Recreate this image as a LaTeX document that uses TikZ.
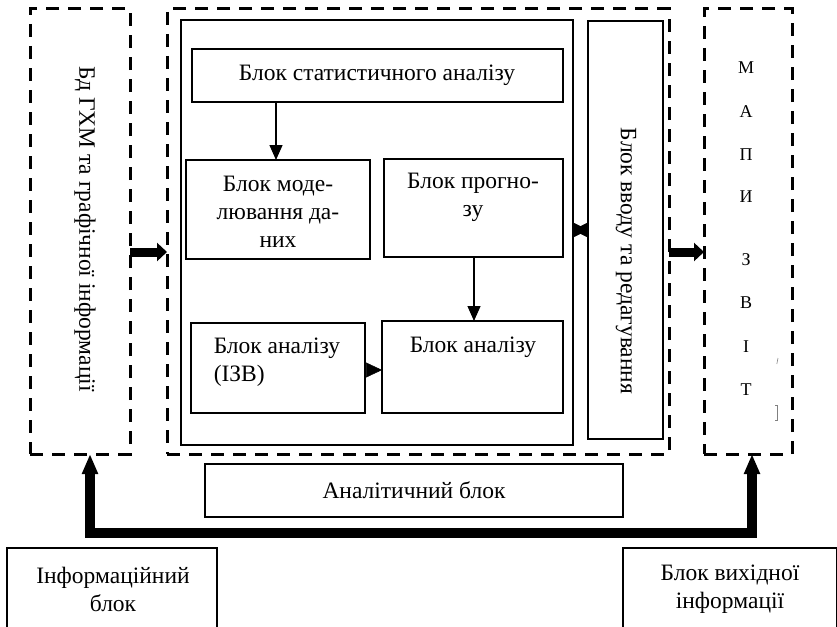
\documentclass[tikz,border=0pt]{standalone}
\usepackage{fontspec}
\setmainfont{Liberation Serif}
\usetikzlibrary{arrows.meta}
\begin{document}
\begin{tikzpicture}[x=1pt,y=-1pt,
  every node/.style={inner sep=0pt, outer sep=0pt},
  dbox/.style={draw, line width=3pt, dash pattern=on 13pt off 9pt, anchor=north west},
  sbox/.style={draw, line width=1.5pt, anchor=north west},
  txt/.style={font=\fontsize{23.5}{28}\selectfont, align=center},
  letter/.style={font=\fontsize{18}{20}\selectfont},
  thinarrow/.style={line width=1.3pt, -{Triangle[length=15pt,width=13pt]}},
  bigarrow/.style={line width=9pt, -{Triangle[length=10pt,width=18pt]}},
  busarrow/.style={line width=10pt, -{Triangle[length=20pt,width=15pt]}}]
\useasboundingbox (0,0) rectangle (837,626);
% dashed containers
\node[dbox, minimum width=100pt, minimum height=445pt] (L) at (30,9) {};
\node[dbox, minimum width=502pt, minimum height=445pt] (M) at (167,9) {};
\node[dbox, minimum width=88pt, minimum height=445pt] (R) at (704,9) {};
% solid boxes
\node[sbox, minimum width=392pt, minimum height=425pt] (inner) at (181,20) {};
\node[sbox, minimum width=371pt, minimum height=53pt] (stat) at (192,49) {};
\node[sbox, minimum width=184pt, minimum height=99pt] (model) at (186,160) {};
\node[sbox, minimum width=179pt, minimum height=98pt] (prog) at (384,159) {};
\node[sbox, minimum width=174pt, minimum height=90pt] (izv) at (191,323) {};
\node[sbox, minimum width=181pt, minimum height=92pt] (anal) at (382,321) {};
\node[sbox, minimum width=75pt, minimum height=418pt] (vvodu) at (588,21) {};
\node[sbox, minimum width=418pt, minimum height=53pt] (analit) at (205,464) {};
\node[sbox, minimum width=210pt, minimum height=100pt] (info) at (7,548) {};
\node[sbox, minimum width=214pt, minimum height=100pt] (out) at (623,548) {};
% texts
\node[txt, rotate=-90] (Ltext) at (85,229) {Бд ГХМ та графічної інформації};
\node[txt] (stattext) at (377,75) {Блок статистичного аналізу};
\node[txt] (modeltext) at (278,212) {Блок моде-\\лювання да-\\них};
\node[txt] (progtext) at (473,197) {Блок прогно-\\зу};
\node[txt] (analtext) at (473,347) {Блок аналізу};
\node[txt, align=left] (izvtext) at (277,362) {Блок аналізу\\(ІЗВ)};
\node[txt, rotate=-90] (vvodutext) at (626,261) {Блок вводу та редагування};
\node[txt] (analittext) at (414,490) {Аналітичний блок};
\node[txt] (infotext) at (113,589) {Інформаційний\\блок};
\node[txt] (outtext) at (730,589) {Блок вихідної\\інформації};
% vertical letters
\node[letter] (l1) at (746,68) {М};
\node[letter] (l2) at (746,112) {А};
\node[letter] (l3) at (746,155) {П};
\node[letter] (l4) at (746,197) {И};
\node[letter] (l5) at (746,260) {З};
\node[letter] (l6) at (746,303) {В};
\node[letter] (l7) at (746,347) {І};
\node[letter] (l8) at (746,390) {Т};
% stray marks
\draw[gray, line width=0.6pt] (778,358) -- (776.8,364);
\draw[gray, line width=0.8pt] (775,405) -- (777,405) -- (777,420) -- (775,420);
% arrows
\coordinate (xa) at (276,0);
\coordinate (xb) at (474,0);
\coordinate (ya) at (0,370);
\coordinate (yb) at (0,230);
\coordinate (yc) at (0,252);
\draw[thinarrow] (stat.south -| xa) -- (model.north -| xa);
\draw[thinarrow] (prog.south -| xb) -- (anal.north -| xb);
\draw[line width=0.5pt, -{Triangle[length=16pt,width=15pt]}] (izv.east |- ya) -- (anal.west |- ya);
\draw[line width=0.5pt, {Triangle[length=15pt,width=15pt]}-{Triangle[length=15pt,width=15pt]}] (inner.east |- yb) -- (vvodu.west |- yb);
\draw[bigarrow] (L.east |- yc) -- (M.west |- yc);
\draw[bigarrow] (M.east |- yc) -- (R.west |- yc);
% bus
\coordinate (barL) at (90,533);
\coordinate (barR) at (752,533);
\draw[line width=10pt] ([xshift=-5pt]barL) -- ([xshift=5pt]barR);
\draw[busarrow] (barL) -- (L.south -| barL);
\draw[busarrow] (barR) -- (R.south -| barR);
\end{tikzpicture}
\end{document}
